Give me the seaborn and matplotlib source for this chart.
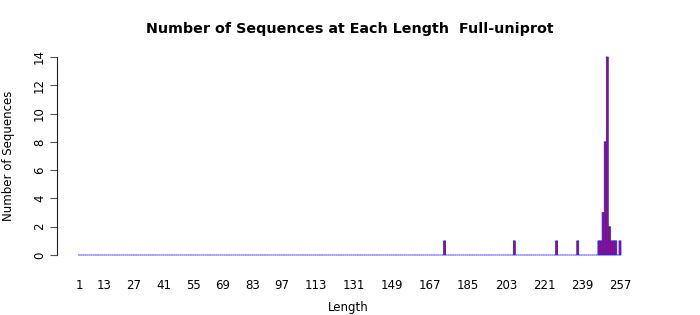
import numpy as np
import pandas as pd
import matplotlib
matplotlib.use("Agg")
import matplotlib.pyplot as plt
import seaborn as sns

# Data
max_length = 257
nonzero_lengths = [174, 207, 227, 237, 247, 248, 249, 250, 251, 252, 253, 254, 255, 257]
nonzero_counts = [1, 1, 1, 1, 1, 1, 3, 8, 14, 2, 1, 1, 1, 1]
tick_labels = ["1", "13", "27", "41", "55", "69", "83", "97", "113", "131",
               "149", "167", "185", "203", "221", "239", "257"]
y_ticks = [0, 2, 4, 6, 8, 10, 12, 14]

lengths = list(range(1, max_length + 1))
count_map = dict(zip(nonzero_lengths, nonzero_counts))
counts = [count_map.get(l, 0) for l in lengths]
df = pd.DataFrame({"length": lengths, "count": counts})

sns.set_style("white")
plt.rcParams["font.family"] = ["DejaVu Sans"]
plt.rcParams["text.color"] = "black"
plt.rcParams["axes.labelcolor"] = "black"
plt.rcParams["xtick.color"] = "black"
plt.rcParams["ytick.color"] = "black"

W, H = 700, 315
fig = plt.figure(figsize=(W / 100, H / 100), dpi=100)
ax_left, ax_right, ax_bottom, ax_top = 57, 640, 255, 57
ax = fig.add_axes([ax_left / W, 1 - ax_bottom / H, (ax_right - ax_left) / W, (ax_bottom - ax_top) / H])

sns.barplot(data=df, x="length", y="count", order=lengths, color="#d00030",
            saturation=1, edgecolor="#2020ff", linewidth=0.6, width=0.9, ax=ax)

px_per_unit = (620 - 79) / 256.0
x0 = 0 - (79 - ax_left) / px_per_unit
x1 = (max_length - 1) + (ax_right - 620) / px_per_unit
ax.set_xlim(x0, x1)
ax.set_ylim(0, 14)

pos = [lengths.index(int(t)) for t in tick_labels]
ax.set_xticks(pos)
ax.set_xticklabels(tick_labels, fontsize=8.5)
ax.tick_params(axis="x", length=0, pad=17)

ax.set_yticks(y_ticks)
ax.set_yticklabels([str(v) for v in y_ticks], fontsize=8.5, rotation=90, va="center")
ax.tick_params(axis="y", length=5, width=0.8, color="#555555", pad=3, left=True)

for s in ["top", "right", "bottom"]:
    ax.spines[s].set_visible(False)
ax.spines["left"].set_bounds(0, 14)
ax.spines["left"].set_color("#222222")
ax.spines["left"].set_linewidth(0.8)
for p in ax.patches:
    p.set_clip_on(False)
    p.set_snap(False)

ax.set_xlabel("Length", fontsize=8.5, labelpad=7)
ax.set_ylabel("Number of Sequences", fontsize=8.5, labelpad=13)
fig.text(350 / W, 1 - 29 / H, "Number of Sequences at Each Length  Full-uniprot",
         ha="center", va="center", fontsize=10.25, fontweight="bold", color="black")

fig.savefig("out.png", dpi=100)
